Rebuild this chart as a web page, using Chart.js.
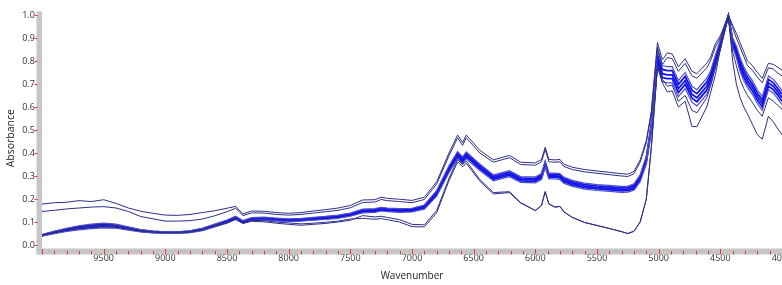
<!DOCTYPE html>
<html>
<head>
<meta charset="utf-8">
<script src="https://cdn.jsdelivr.net/npm/chart.js@4.4.0/dist/chart.umd.min.js"></script>
<style>
  html, body { margin: 0; padding: 0; background: #fff; overflow: hidden; }
  #wrap { width: 782px; height: 285px; overflow: hidden; }
</style>
</head>
<body>
<div id="wrap"><canvas id="grafico" width="782" height="285"></canvas></div>
<script>
// wavenumber grid (cm-1)
const wavenumber = [10000, 9900, 9800, 9700, 9600, 9500, 9400, 9300, 9200, 9100,
  9000, 8900, 8800, 8700, 8600, 8500, 8430, 8370, 8300, 8200,
  8100, 8000, 7900, 7800, 7700, 7600, 7500, 7400, 7300, 7250,
  7200, 7100, 7000, 6900, 6800, 6700, 6630, 6590, 6560, 6450,
  6340, 6210, 6120, 6000, 5950, 5920, 5890, 5840, 5800, 5770,
  5700, 5600, 5500, 5400, 5300, 5250, 5200, 5150, 5100, 5060,
  5030, 5010, 4970, 4930, 4890, 4840, 4785, 4730, 4690, 4610,
  4580, 4540, 4500, 4470, 4435, 4400, 4370, 4340, 4310, 4280,
  4240, 4200, 4160, 4110, 4070, 4040, 4000];

// two upper spectra
const absU1 = [.178, .184, .186, .193, .189, .197, .181, .161, .147, .138,
  .130, .129, .133, .141, .149, .160, .168, .135, .148, .147,
  .141, .138, .141, .148, .154, .161, .172, .196, .197, .208,
  .203, .199, .194, .208, .275, .400, .478, .445, .478, .412,
  .370, .390, .360, .357, .372, .425, .372, .370, .372, .352,
  .338, .328, .322, .316, .310, .308, .320, .370, .455, .580,
  .760, .880, .805, .835, .830, .775, .810, .755, .745, .790,
  .815, .875, .910, .950, 1.000, .955, .920, .880, .840, .800,
  .780, .750, .725, .790, .785, .775, .760];
const absU2 = [.146, .151, .157, .161, .165, .167, .161, .146, .124, .114,
  .104, .104, .106, .113, .127, .145, .160, .128, .140, .139,
  .133, .130, .133, .139, .145, .151, .162, .185, .187, .198,
  .193, .189, .184, .198, .265, .388, .466, .433, .466, .400,
  .360, .380, .350, .347, .362, .415, .362, .360, .362, .342,
  .328, .318, .312, .306, .300, .298, .310, .360, .445, .570,
  .745, .860, .785, .815, .810, .755, .790, .735, .725, .770,
  .800, .860, .900, .945, .998, .945, .900, .860, .820, .780,
  .760, .730, .705, .770, .765, .750, .735];

// main bundle
const absB1 = [.045, .060, .073, .084, .091, .095, .091, .079, .067, .061,
  .057, .057, .062, .073, .091, .109, .125, .106, .119, .121,
  .117, .114, .116, .120, .125, .130, .139, .156, .158, .164,
  .161, .158, .160, .174, .237, .345, .407, .383, .405, .352,
  .305, .323, .298, .296, .311, .365, .313, .313, .311, .295,
  .281, .269, .263, .259, .255, .256, .266, .305, .387, .530,
  .705, .845, .780, .775, .775, .715, .750, .690, .675, .725,
  .755, .825, .890, .942, .998, .900, .865, .815, .775, .745,
  .715, .675, .645, .735, .720, .700, .670];
const absB2 = [.044, .058, .070, .080, .086, .090, .087, .076, .065, .059,
  .056, .056, .060, .071, .088, .106, .122, .103, .116, .118,
  .114, .111, .113, .117, .122, .127, .136, .152, .154, .160,
  .157, .154, .156, .170, .231, .338, .400, .376, .398, .345,
  .299, .317, .292, .290, .305, .359, .307, .307, .305, .289,
  .275, .263, .257, .253, .249, .250, .259, .298, .379, .520,
  .693, .828, .763, .758, .758, .698, .733, .673, .658, .708,
  .740, .813, .880, .936, .997, .890, .853, .800, .760, .730,
  .700, .660, .630, .720, .705, .685, .655];
const absB3 = [.042, .055, .066, .075, .081, .085, .082, .072, .062, .057,
  .054, .054, .058, .068, .085, .102, .118, .100, .113, .115,
  .111, .108, .110, .114, .118, .123, .132, .148, .150, .156,
  .153, .150, .152, .165, .225, .330, .392, .368, .390, .338,
  .292, .310, .285, .283, .298, .352, .300, .300, .298, .282,
  .268, .256, .250, .246, .242, .243, .252, .290, .370, .510,
  .680, .810, .745, .740, .740, .680, .715, .655, .640, .690,
  .725, .800, .870, .930, .996, .880, .840, .785, .745, .715,
  .685, .645, .615, .705, .690, .670, .640];
const absB4 = [.041, .053, .063, .071, .076, .080, .078, .069, .060, .055,
  .053, .053, .056, .066, .082, .099, .115, .097, .110, .112,
  .108, .105, .107, .111, .115, .120, .129, .144, .146, .152,
  .149, .146, .148, .161, .219, .323, .385, .361, .383, .331,
  .286, .304, .279, .277, .292, .346, .294, .294, .292, .276,
  .262, .250, .244, .240, .236, .237, .245, .283, .362, .500,
  .668, .793, .728, .723, .723, .663, .698, .638, .623, .673,
  .710, .788, .860, .924, .995, .870, .828, .770, .730, .700,
  .670, .630, .600, .690, .675, .655, .625];
const absB5 = [.039, .050, .059, .066, .071, .075, .073, .065, .057, .053,
  .051, .051, .054, .063, .079, .095, .111, .094, .107, .109,
  .105, .102, .104, .108, .111, .116, .125, .140, .142, .148,
  .145, .142, .144, .156, .213, .315, .377, .353, .375, .324,
  .279, .297, .272, .270, .285, .339, .287, .287, .285, .269,
  .255, .243, .237, .233, .229, .230, .238, .275, .353, .490,
  .655, .775, .710, .705, .705, .645, .680, .620, .605, .655,
  .695, .775, .850, .918, .994, .860, .815, .755, .715, .685,
  .655, .615, .585, .675, .660, .640, .610];

// two lower spectra
const absL1 = [.042, .054, .065, .073, .079, .082, .080, .070, .061, .056,
  .054, .054, .057, .066, .082, .097, .112, .095, .103, .101,
  .095, .090, .086, .090, .094, .100, .108, .128, .122, .125,
  .120, .110, .090, .088, .150, .290, .372, .350, .365, .285,
  .228, .232, .185, .150, .172, .232, .178, .165, .168, .145,
  .120, .098, .085, .072, .058, .050, .060, .100, .200, .420,
  .630, .780, .705, .665, .670, .600, .625, .515, .515, .600,
  .660, .740, .850, .920, .994, .800, .700, .640, .600, .570,
  .525, .480, .460, .560, .535, .510, .480];
const absL2 = [.044, .056, .067, .076, .082, .086, .084, .073, .063, .058,
  .055, .055, .059, .068, .085, .100, .115, .098, .107, .106,
  .100, .096, .092, .095, .099, .104, .113, .116, .112, .115,
  .110, .100, .080, .079, .140, .280, .362, .340, .355, .278,
  .222, .228, .183, .150, .172, .232, .178, .165, .168, .145,
  .120, .098, .085, .072, .058, .050, .060, .100, .200, .420,
  .630, .780, .720, .690, .695, .625, .650, .585, .575, .640,
  .690, .770, .860, .925, .995, .840, .780, .720, .680, .650,
  .620, .585, .560, .640, .625, .610, .590];

const xLabelValues = [9500, 9000, 8500, 8000, 7500, 7000, 6500, 6000, 5500, 5000, 4500, 4000];
const yTickValues = [0.0, 0.1, 0.2, 0.3, 0.4, 0.5, 0.6, 0.7, 0.8, 0.9, 1.0];

const oscuro = '#2e2e8a';
const azul = '#1414ea';
const lila = '#5050c4';

function linea(valores, color, ancho) {
  return {
    data: wavenumber.map((w, i) => ({ x: w, y: valores[i] })),
    borderColor: color,
    borderWidth: ancho,
    pointRadius: 0,
    tension: 0,
    fill: false
  };
}

// gray frame bands and red tick marks
const marco = {
  id: 'marco',
  beforeDraw(chart) {
    const ctx = chart.ctx;
    ctx.save();
    ctx.fillStyle = '#ffffff';
    ctx.fillRect(0, 0, chart.width, chart.height);
    ctx.restore();
  },
  afterDraw(chart) {
    const { ctx, chartArea: a, scales: { x, y } } = chart;
    ctx.save();
    ctx.fillStyle = '#c6c6c6';
    ctx.fillRect(a.left - 5.5, a.top, 5.5, a.bottom + 6 - a.top);
    ctx.fillRect(a.left - 5.5, a.bottom, a.right - a.left + 5.5, 6);
    ctx.strokeStyle = '#e03a3a';
    ctx.lineWidth = 1;
    for (let w = 4000; w <= 10000; w += 100) {
      const px = Math.round(x.getPixelForValue(w)) + 0.5;
      const mayor = w % 500 === 0;
      ctx.beginPath();
      ctx.moveTo(px, a.bottom + (mayor ? 0.5 : 2.5));
      ctx.lineTo(px, a.bottom + 6);
      ctx.stroke();
    }
    yTickValues.forEach(v => {
      const py = Math.round(y.getPixelForValue(v)) + 0.5;
      ctx.beginPath();
      ctx.moveTo(a.left - 7.5, py);
      ctx.lineTo(a.left - 4.5, py);
      ctx.stroke();
    });
    ctx.restore();
  }
};

const ctx = document.getElementById('grafico').getContext('2d');
new Chart(ctx, {
  type: 'line',
  data: {
    datasets: [
      linea(absU1, oscuro, 1),
      linea(absU2, oscuro, 1),
      linea(absL1, oscuro, 1),
      linea(absL2, oscuro, 1),
      linea(absB1, lila, 1.2),
      linea(absB5, lila, 1.2),
      linea(absB2, azul, 1.8),
      linea(absB3, azul, 1.8),
      linea(absB4, azul, 1.8)
    ]
  },
  options: {
    responsive: false,
    animation: false,
    layout: { padding: { top: 11.5, right: 0, bottom: 0, left: 0 } },
    plugins: {
      legend: { display: false },
      tooltip: { enabled: false }
    },
    scales: {
      x: {
        type: 'linear',
        reverse: true,
        min: 4000,
        max: 10000,
        grid: { display: false, drawTicks: false },
        border: { display: false },
        afterBuildTicks: s => { s.ticks = xLabelValues.map(v => ({ value: v })); },
        afterFit: s => { s.height = 36.5; s.paddingLeft = 0; s.paddingRight = 0; },
        ticks: {
          autoSkip: false,
          maxRotation: 0,
          padding: 5,
          color: '#333',
          font: { family: 'Open Sans', size: 9 },
          callback: v => String(v)
        },
        title: {
          display: true,
          text: 'Wavenumber',
          color: '#222',
          font: { family: 'Open Sans', size: 10 },
          padding: { top: 0, bottom: 3 }
        }
      },
      y: {
        min: -0.015,
        max: 1.015,
        grid: { display: false, drawTicks: false },
        border: { display: false },
        afterBuildTicks: s => { s.ticks = yTickValues.map(v => ({ value: v })); },
        afterFit: s => { s.width = 42; s.paddingTop = 0; s.paddingBottom = 0; },
        ticks: {
          padding: 7,
          color: '#333',
          font: { family: 'Open Sans', size: 9 },
          callback: v => v.toFixed(1)
        },
        title: {
          display: true,
          // trailing spaces push the word a little lower, as in the picture
          text: 'Absorbance      ',
          color: '#222',
          font: { family: 'Open Sans', size: 10.5 },
          padding: { top: 5, bottom: 0 }
        }
      }
    }
  },
  plugins: [marco]
});
</script>
</body>
</html>
